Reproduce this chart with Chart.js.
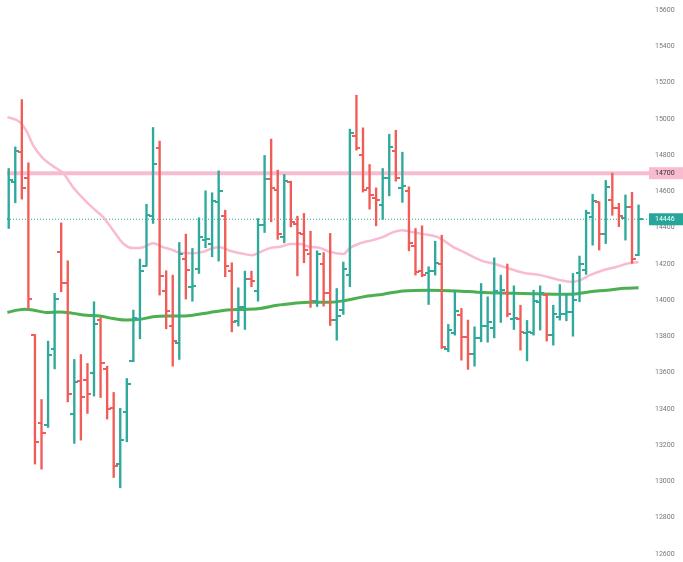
<!DOCTYPE html>
<html>
<head>
<meta charset="utf-8">
<script src="https://cdn.jsdelivr.net/npm/chart.js@4.4.0/dist/chart.umd.min.js"></script>
<style>
html,body{margin:0;padding:0;background:#fff;}
#c{display:block;}
</style>
</head>
<body>
<canvas id="c" width="683" height="562"></canvas>
<script>
// ---- data ----
const opens  = [14450,14652,14818,14671,13807,13325,13311,13733,14263,14097,13370,13555,13559,13596,13893,13618,13406,13099,13381,13664,13895,14189,14465,14840,14051,13858,13761,14226,14070,14171,14331,14312,14542,14465,14160,13886,13960,14114,14050,14417,14669,14610,14346,14652,14419,14366,14254,13993,14200,14038,13890,13943,14138,14904,14798,14621,14562,14522,14676,14822,14619,14601,14300,14160,14147,14158,14200,13728,13820,13917,13798,13702,13789,13857,13844,14037,14037,13895,13895,13816,13816,13989,14028,13807,13908,13923,13932,14151,14165,14460,14539,14364,14550,14506,14451,14515,14249];
const highs  = [14726,14845,15106,14757,13810,13452,13774,14037,14426,14217,13673,13700,13651,13991,13903,13636,13491,13403,13568,13945,14226,14529,14952,14877,14162,14138,14318,14364,14285,14454,14603,14592,14713,14496,14206,14068,14160,14160,14450,14798,14888,14717,14693,14656,14463,14478,14380,14272,14262,14368,14064,14210,14943,15130,14950,14748,14619,14726,14915,14937,14816,14625,14395,14410,14184,14325,14358,13866,14050,13954,13890,13853,14092,14018,14233,14138,14199,14079,13972,13888,14055,14079,14037,13972,14086,14037,14147,14243,14496,14584,14542,14660,14700,14534,14580,14595,14525];
const lows   = [14395,14537,14557,13954,13096,13068,13298,13621,14046,13439,13210,13228,13375,13471,13463,13344,13022,12965,13219,13660,13787,14187,14423,14028,13842,13636,13673,14006,13994,14147,14289,14239,14215,14129,13825,13857,13838,14074,13994,14373,14432,14335,14316,14404,14134,14206,13960,13965,13967,13860,13779,13921,14074,14827,14596,14502,14410,14445,14575,14656,14539,14272,14138,14129,13976,14138,13733,13715,13807,13669,13618,13636,13770,13768,13792,13877,13908,13838,13724,13665,13807,13835,13774,13752,13890,13886,13801,13991,14142,14303,14276,14312,14468,14405,14331,14203,14245];
const closes = [14665,14823,14621,14004,13215,13270,13700,14007,14097,13482,13546,13467,13482,13868,13654,13397,13087,13228,13535,13903,14162,14471,14748,14132,13939,13774,14254,14165,14079,14346,14338,14548,14603,14187,13877,13963,14114,14103,14417,14669,14619,14362,14656,14432,14371,14276,13996,14254,14038,13888,13910,14172,14923,14840,14607,14579,14551,14676,14845,14671,14629,14316,14156,14138,14160,14206,13743,13835,13939,13798,13702,13792,13857,13877,14050,14055,13921,13904,13822,13825,13994,14040,13807,13926,13923,13932,14000,14197,14478,14545,14366,14622,14506,14466,14515,14227,14446];

// moving averages (read at bar-index positions)
const pinkMaX = [-0.2,1.7,2.8,3.7,5.2,6.75,8.3,9.8,11.3,12.85,14.4,15.9,17.4,19,20.5,22,23.5,24.6,26.1,28.1,29.6,31.1,32.2,33.7,35.3,37.1,38.3,39.8,41.4,42.9,44.4,45.9,47.5,49,51,52,53.6,55.5,57.1,58.6,60,61.2,63.2,65.3,66.2,67.7,69.3,70.8,72.3,73.8,75.4,78.4,81,83.6,86,87.1,88.6,90.6,92.7,94.3,96];
const pinkMaY = [15009,14982,14927,14855,14783,14739,14700,14623,14563,14507,14458,14386,14314,14287,14292,14314,14292,14281,14261,14259,14266,14287,14292,14272,14259,14248,14265,14287,14294,14309,14309,14294,14287,14266,14254,14287,14314,14331,14349,14375,14386,14377,14364,14349,14331,14294,14266,14239,14215,14202,14184,14151,14138,14114,14101,14110,14138,14165,14184,14202,14210];
const greenMaX = [-0.2,1.3,2.5,3.7,5.8,7.8,9.8,11.9,13.9,15.9,18,20,22,24.1,25.7,28.1,30.7,33.3,35.7,38.3,40.9,43.3,45.9,49,51,54,57.1,60.1,64.2,68.3,71.4,74.9,78.4,83.6,86,88.6,91.2,93.7,96];
const greenMaY = [13932,13945,13950,13945,13932,13935,13927,13917,13912,13899,13890,13894,13908,13912,13912,13917,13932,13945,13949,13954,13972,13982,13989,13989,13996,14018,14033,14051,14055,14051,14044,14039,14037,14033,14033,14046,14055,14065,14068];

const yTicks = [12600,12800,13000,13200,13400,13600,13800,14000,14200,14400,14600,14800,15000,15200,15400,15600];
const resistanceLevel = 14700;
const lastPrice = 14446;

// ---- styling ----
const UP = '#2fa99b', DOWN = '#f05d58';
const X_MIN = -0.26, X_MAX = 97.59;

function tickImg(color, side){
  const c = document.createElement('canvas');
  c.width = 8; c.height = 2;
  const g = c.getContext('2d');
  g.fillStyle = color;
  if (side === 'left') g.fillRect(0,0,4,2); else g.fillRect(4,0,4,2);
  return c;
}
const imgs = {
  openUp: tickImg(UP,'left'), openDown: tickImg(DOWN,'left'),
  closeUp: tickImg(UP,'right'), closeDown: tickImg(DOWN,'right')
};
const isUp = i => closes[i] >= opens[i];
const barColors = opens.map((o,i)=> isUp(i) ? UP : DOWN);

const priceBoxes = {
  id: 'priceBoxes',
  afterDraw(chart){
    const {ctx, chartArea} = chart;
    const y = chart.scales.y;
    const draw = (v, bg, fg) => {
      const py = y.getPixelForValue(v);
      ctx.save();
      ctx.fillStyle = bg;
      ctx.fillRect(chartArea.right, py - 6, chart.width - chartArea.right, 12);
      ctx.fillStyle = fg;
      ctx.font = '7px Roboto';
      ctx.textAlign = 'left';
      ctx.textBaseline = 'middle';
      ctx.fillText(String(v), chartArea.right + 6, py);
      ctx.restore();
    };
    draw(resistanceLevel, '#f8bbd0', '#333');
    draw(lastPrice, '#26a69a', '#ffffff');
  }
};

new Chart(document.getElementById('c'), {
  type: 'bar',
  data: {
    datasets: [
      {
        type: 'bar',
        data: lows.map((l,i)=>({x:i, y:[l, highs[i]]})),
        backgroundColor: barColors,
        borderWidth: 0,
        barThickness: 1.7,
        grouped: false,
        order: 2
      },
      {
        type: 'line',
        data: opens.map((o,i)=>({x:i, y:o})),
        showLine: false,
        pointRadius: 3,
        pointStyle: ctx => isUp(ctx.dataIndex) ? imgs.openUp : imgs.openDown,
        order: 1
      },
      {
        type: 'line',
        data: closes.map((c,i)=>({x:i, y:c})),
        showLine: false,
        pointRadius: 3,
        pointStyle: ctx => isUp(ctx.dataIndex) ? imgs.closeUp : imgs.closeDown,
        order: 1
      },
      {
        type: 'line',
        data: pinkMaX.map((x,i)=>({x, y: pinkMaY[i]})),
        borderColor: '#f8bbd0',
        borderWidth: 2.5,
        pointRadius: 0,
        cubicInterpolationMode: 'monotone',
        order: 3
      },
      {
        type: 'line',
        data: greenMaX.map((x,i)=>({x, y: greenMaY[i]})),
        borderColor: '#4caf50',
        borderWidth: 3,
        pointRadius: 0,
        cubicInterpolationMode: 'monotone',
        order: 3
      },
      {
        type: 'line',
        data: [{x:X_MIN, y:resistanceLevel},{x:X_MAX, y:resistanceLevel}],
        borderColor: '#f8bbd0',
        borderWidth: 4,
        pointRadius: 0,
        order: 4
      },
      {
        type: 'line',
        data: [{x:X_MIN, y:lastPrice},{x:X_MAX, y:lastPrice}],
        borderColor: '#26a69a',
        borderWidth: 1,
        borderDash: [1,2],
        pointRadius: 0,
        order: 5
      }
    ]
  },
  options: {
    responsive: false,
    animation: false,
    events: [],
    layout: { padding: { top: 10, bottom: 8, left: 7, right: 0 } },
    plugins: { legend: { display: false }, tooltip: { enabled: false } },
    scales: {
      x: { type: 'linear', min: X_MIN, max: X_MAX, display: false, offset: false },
      y: {
        position: 'right',
        min: 12600, max: 15600,
        grid: { display: false, drawTicks: false },
        border: { display: false },
        afterBuildTicks: s => { s.ticks = yTicks.map(v => ({value: v})); },
        afterFit: s => { s.width = 34; s.paddingTop = 3; s.paddingBottom = 3; },
        ticks: {
          padding: 6,
          color: '#777',
          font: { family: 'Roboto', size: 7 },
          callback: v => String(v)
        }
      }
    }
  },
  plugins: [priceBoxes]
});
</script>
</body>
</html>
